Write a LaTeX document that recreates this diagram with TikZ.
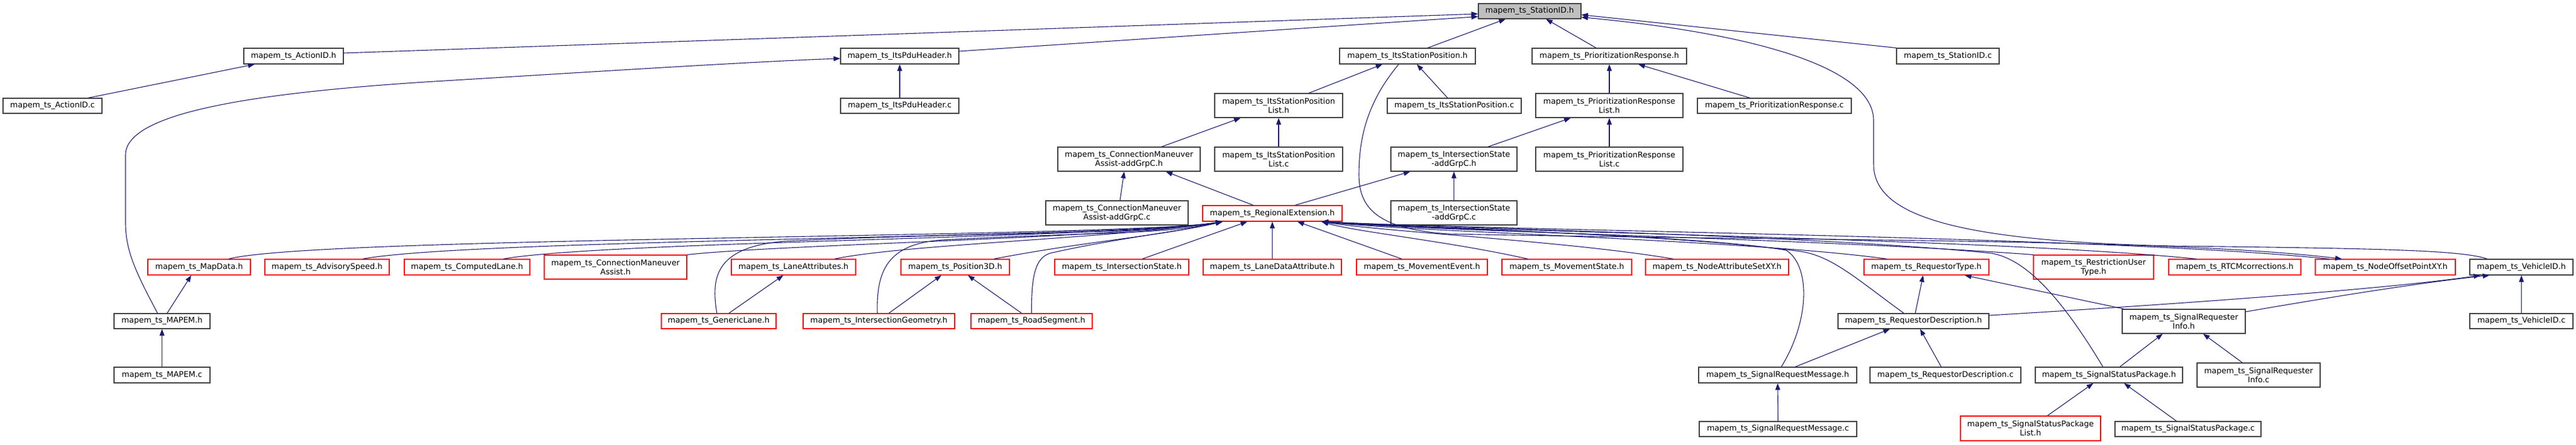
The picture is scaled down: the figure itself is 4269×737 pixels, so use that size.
\documentclass[tikz,border=0pt]{standalone}
\usepackage{fontspec}
\newfontfamily\dvs{DejaVu Sans}
\usetikzlibrary{arrows.meta}
\definecolor{edgec}{HTML}{191970}
\definecolor{nodeb}{HTML}{404040}
\definecolor{nodered}{HTML}{FF0000}
\definecolor{rootfill}{HTML}{BFBFBF}
\begin{document}
\begin{tikzpicture}[x=1pt,y=-1pt,
  box/.style={draw=nodeb, fill=white, line width=1.2pt, inner sep=0pt, align=center,
              font=\dvs\fontsize{13}{15}\selectfont, minimum height=26pt},
  tall/.style={minimum height=40pt},
  trunc/.style={draw=nodered},
  rootbox/.style={fill=rootfill},
  wd/.style={minimum width=#1},
  dep/.style={draw=edgec, line width=1.1pt, -{Triangle[length=11pt,width=8pt]}}]
\fill[white] (0,0) rectangle (4269,737);
\useasboundingbox (0,0) rectangle (4269,737);

% ---- rank 0/1/2 ----
\node[box,rootbox,wd=170pt,minimum height=25pt] (stationh) at (2535,18.5) {mapem\_ts\_StationID.h};
\node[box,wd=165pt] (actionh) at (486.5,93) {mapem\_ts\_ActionID.h};
\node[box,wd=196pt] (pduh) at (1491,93) {mapem\_ts\_ItsPduHeader.h};
\node[box,wd=225pt] (isposh) at (2332.5,93) {mapem\_ts\_ItsStationPosition.h};
\node[box,wd=256pt] (prh) at (2667,93) {mapem\_ts\_PrioritizationResponse.h};
\node[box,wd=170pt] (stationc) at (3228,93) {mapem\_ts\_StationID.c};
\node[box,wd=164pt,minimum height=25pt] (actionc) at (87,175.5) {mapem\_ts\_ActionID.c};
\node[box,wd=196pt,minimum height=25pt] (pduc) at (1491,175.5) {mapem\_ts\_ItsPduHeader.c};
\node[box,tall,wd=212pt] (isposlisth) at (2119,175) {mapem\_ts\_ItsStationPosition\\List.h};
\node[box,wd=222pt,minimum height=25pt] (isposc) at (2410,175.5) {mapem\_ts\_ItsStationPosition.c};
\node[box,tall,wd=244pt] (prlisth) at (2667,175) {mapem\_ts\_PrioritizationResponse\\List.h};
\node[box,wd=255pt,minimum height=25pt] (prc) at (2940.5,175.5) {mapem\_ts\_PrioritizationResponse.c};
\node[box,tall,wd=236pt] (cmagh) at (1871,264) {mapem\_ts\_ConnectionManeuver\\Assist-addGrpC.h};
\node[box,tall,wd=212pt] (isposlistc) at (2119,264) {mapem\_ts\_ItsStationPosition\\List.c};
\node[box,tall,wd=209pt] (isagh) at (2409.5,264) {mapem\_ts\_IntersectionState\\-addGrpC.h};
\node[box,tall,wd=244pt] (prlistc) at (2667,264) {mapem\_ts\_PrioritizationResponse\\List.c};
\node[box,tall,wd=236pt] (cmagc) at (1851,353) {mapem\_ts\_ConnectionManeuver\\Assist-addGrpC.c};
\node[box,trunc,wd=231pt] (regext) at (2108.5,354) {mapem\_ts\_RegionalExtension.h};
\node[box,tall,wd=209pt] (isagc) at (2409.5,353) {mapem\_ts\_IntersectionState\\-addGrpC.c};

% ---- row 4 ----
\node[box,trunc,wd=170pt] (mapdata) at (330,443) {mapem\_ts\_MapData.h};
\node[box,trunc,wd=206pt] (advspeed) at (542,443) {mapem\_ts\_AdvisorySpeed.h};
\node[box,trunc,wd=208pt] (complane) at (774,443) {mapem\_ts\_ComputedLane.h};
\node[box,trunc,tall,wd=236pt] (cmah) at (1020,443) {mapem\_ts\_ConnectionManeuver\\Assist.h};
\node[box,trunc,wd=206pt] (laneattr) at (1315,443) {mapem\_ts\_LaneAttributes.h};
\node[box,trunc,wd=180pt] (pos3d) at (1583,443) {mapem\_ts\_Position3D.h};
\node[box,trunc,wd=222pt] (isstate) at (1859,443) {mapem\_ts\_IntersectionState.h};
\node[box,trunc,wd=229pt] (lanedata) at (2108.5,443) {mapem\_ts\_LaneDataAttribute.h};
\node[box,trunc,wd=217pt] (movevent) at (2356.5,443) {mapem\_ts\_MovementEvent.h};
\node[box,trunc,wd=215pt] (movstate) at (2596.5,443) {mapem\_ts\_MovementState.h};
\node[box,trunc,wd=237pt] (nodeattr) at (2845.5,443) {mapem\_ts\_NodeAttributeSetXY.h};
\node[box,trunc,wd=207pt] (reqtype) at (3192.5,443) {mapem\_ts\_RequestorType.h};
\node[box,trunc,tall,wd=199pt] (restrict) at (3469.5,443) {mapem\_ts\_RestrictionUser\\Type.h};
\node[box,trunc,wd=219pt] (rtcm) at (3703.5,443) {mapem\_ts\_RTCMcorrections.h};
\node[box,trunc,wd=232pt] (nodeoff) at (3953,443) {mapem\_ts\_NodeOffsetPointXY.h};
\node[box,wd=171pt] (vehh) at (4178.5,443) {mapem\_ts\_VehicleID.h};

% ---- row 5 ----
\node[box,wd=159pt,minimum height=25pt] (mapemh) at (268.5,532.5) {mapem\_ts\_MAPEM.h};
\node[box,trunc,wd=190pt,minimum height=25pt] (generic) at (1191,532.5) {mapem\_ts\_GenericLane.h};
\node[box,trunc,wd=251pt,minimum height=25pt] (intgeo) at (1456.5,532.5) {mapem\_ts\_IntersectionGeometry.h};
\node[box,trunc,wd=201pt,minimum height=25pt] (road) at (1709.5,532.5) {mapem\_ts\_RoadSegment.h};
\node[box,wd=250pt,minimum height=25pt] (reqdesch) at (3171,532.5) {mapem\_ts\_RequestorDescription.h};
\node[box,tall,wd=204pt] (sreqinfoh) at (3619,533) {mapem\_ts\_SignalRequester\\Info.h};
\node[box,wd=171pt,minimum height=25pt] (vehc) at (4178.5,532.5) {mapem\_ts\_VehicleID.c};

% ---- row 6 ----
\node[box,wd=159pt] (mapemc) at (268.5,622) {mapem\_ts\_MAPEM.c};
\node[box,wd=262pt] (srmh) at (2946,622) {mapem\_ts\_SignalRequestMessage.h};
\node[box,wd=250pt] (reqdescc) at (3224,622) {mapem\_ts\_RequestorDescription.c};
\node[box,wd=244pt] (ssph) at (3495,622) {mapem\_ts\_SignalStatusPackage.h};
\node[box,tall,wd=204pt] (sreqinfoc) at (3743,622) {mapem\_ts\_SignalRequester\\Info.c};

% ---- row 7 ----
\node[box,wd=261pt,minimum height=25pt] (srmc) at (2946.5,711.5) {mapem\_ts\_SignalRequestMessage.c};
\node[box,trunc,tall,wd=232pt,minimum height=41pt] (ssplisth) at (3365,710.5) {mapem\_ts\_SignalStatusPackage\\List.h};
\node[box,wd=242pt,minimum height=25pt] (sspc) at (3626,711.5) {mapem\_ts\_SignalStatusPackage.c};

% ---- edges to StationID.h ----
\draw[dep] ([yshift=5pt]actionh.east) -- ([yshift=-4.5pt]stationh.west);
\draw[dep] ([yshift=8pt]pduh.east) -- ([yshift=-9pt]stationh.west);
\draw[dep] ([xshift=33.5pt]isposh.north) -- ([xshift=-40pt]stationh.south);
\draw[dep] ([xshift=-22pt]prh.north) -- ([xshift=27pt]stationh.south);
\draw[dep] (stationc.north west) -- ([yshift=-6pt]stationh.east);
\draw[dep] ([xshift=-56.5pt]vehh.north) .. controls (4080,415) and (3950,412) .. (3600,408)
   .. controls (3250,400) and (3105,360) .. (3105,273) -- (3105,200)
   .. controls (3105,110) and (2900,55) .. ([yshift=-10pt]stationh.east);

% ---- upper edges ----
\draw[dep] ([xshift=59pt]actionc.north) -- ([xshift=-64.5pt]actionh.south);
\draw[dep] (pduc.north) -- (pduh.south);
\draw[dep] ([xshift=50pt]isposlisth.north) -- ([xshift=-41.5pt]isposh.south);
\draw[dep] ([xshift=-11pt]isposc.north) -- ([xshift=15.5pt]isposh.south);
\draw[dep] (prlisth.north) -- (prh.south);
\draw[dep] ([xshift=-40.5pt]prc.north) -- ([xshift=48pt]prh.south);
\draw[dep] ([xshift=54pt]cmagh.north) -- ([xshift=-63pt]isposlisth.south);
\draw[dep] (isposlistc.north) -- (isposlisth.south);
\draw[dep] ([xshift=56.5pt]isagh.north) -- ([xshift=-64pt]prlisth.south);
\draw[dep] (prlistc.north) -- (prlisth.south);
\draw[dep] ([xshift=5pt]cmagc.north) -- ([xshift=-8pt]cmagh.south);
\draw[dep] ([xshift=-31.5pt]regext.north) -- ([xshift=61pt]cmagh.south);
\draw[dep] ([xshift=37.5pt]regext.north) -- ([xshift=-72.5pt]isagh.south);
\draw[dep] (isagc.north) -- (isagh.south);
\draw[dep] ([xshift=-14.5pt]isposh.south) .. controls (2265,170) and (2252,230) .. (2252,290)
   .. controls (2252,350) and (2290,380) .. (2400,388)
   .. controls (3000,400) and (3600,395) .. ([xshift=-72pt]nodeoff.north);

% ---- MAPEM ----
\draw[dep] ([xshift=-7.5pt]mapemh.north) .. controls (230,460) and (208,420) .. (208,370) -- (208,257)
   .. controls (208,190) and (400,155) .. (720,135)
   .. controls (1000,118) and (1250,102) .. ([yshift=-4pt]pduh.west);
\draw[dep] (mapemc.north) -- (mapemh.south);
\draw[dep] ([xshift=8.5pt]mapemh.north) -- ([xshift=-13pt]mapdata.south);

% ---- edges into RegionalExtension.h ----
\draw[dep] ([xshift=49pt]mapdata.north) .. controls (520,392) and (1850,395) .. ([xshift=-82.5pt]regext.south);
\draw[dep] ([xshift=59pt]advspeed.north) .. controls (780,396) and (1850,395) .. ([xshift=-82.5pt]regext.south);
\draw[dep] ([xshift=60pt]complane.north) .. controls (1000,400) and (1850,395) .. ([xshift=-82.5pt]regext.south);
\draw[dep] (cmah.north east) .. controls (1300,405) and (1850,395) .. ([xshift=-82.5pt]regext.south);
\draw[dep] ([xshift=68pt]laneattr.north) .. controls (1500,405) and (1850,395) .. ([xshift=-82.5pt]regext.south);
\draw[dep] ([xshift=-3pt]generic.north) .. controls (1178,460) and (1185,410) .. (1300,400)
   .. controls (1600,385) and (1900,390) .. ([xshift=-82.5pt]regext.south);
\draw[dep] ([xshift=-2.5pt]intgeo.north) .. controls (1452,450) and (1470,405) .. (1560,398)
   .. controls (1800,385) and (1920,390) .. ([xshift=-82.5pt]regext.south);
\draw[dep] ([xshift=64pt]pos3d.north) .. controls (1800,400) and (1920,392) .. ([xshift=-82.5pt]regext.south);
\draw[dep] (road.north) .. controls (1709,460) and (1715,428) .. (1740,420)
   .. controls (1850,395) and (1950,385) .. ([xshift=-82.5pt]regext.south);
\draw[dep] ([xshift=34pt]isstate.north) -- ([xshift=-41.5pt]regext.south);
\draw[dep] (lanedata.north) -- (regext.south);
\draw[dep] ([xshift=-33.5pt]movevent.north) -- ([xshift=41.5pt]regext.south);
\draw[dep] ([xshift=-64.5pt]movstate.north) .. controls (2400,400) and (2250,385) .. ([xshift=81.5pt]regext.south);
\draw[dep] ([xshift=-72.5pt]nodeattr.north) .. controls (2600,400) and (2300,385) .. ([xshift=81.5pt]regext.south);
\draw[dep] ([xshift=-65.5pt]reqtype.north) .. controls (2900,398) and (2350,385) .. ([xshift=81.5pt]regext.south);
\draw[dep] (restrict.north west) .. controls (3000,395) and (2400,385) .. ([xshift=81.5pt]regext.south);
\draw[dep] ([xshift=-63.5pt]rtcm.north) .. controls (3300,395) and (2450,385) .. ([xshift=81.5pt]regext.south);
\draw[dep] ([xshift=-93pt]nodeoff.north) .. controls (3500,392) and (2500,383) .. ([xshift=81.5pt]regext.south);
\draw[dep] ([xshift=6pt]srmh.north) .. controls (3000,530) and (3000,440) .. (2960,415)
   .. controls (2800,388) and (2350,380) .. ([xshift=81.5pt]regext.south);
\draw[dep] ([xshift=-16pt]reqdesch.north) .. controls (3080,465) and (3040,428) .. (2990,418)
   .. controls (2800,390) and (2400,380) .. ([xshift=81.5pt]regext.south);
\draw[dep] ([xshift=-10pt]ssph.north) .. controls (3420,500) and (3360,430) .. (3300,420)
   .. controls (3000,390) and (2450,380) .. ([xshift=81.5pt]regext.south);

% ---- lower edges ----
\draw[dep] ([xshift=17pt]generic.north) -- ([xshift=-17pt]laneattr.south);
\draw[dep] ([xshift=16.5pt]intgeo.north) -- ([xshift=-23pt]pos3d.south);
\draw[dep] ([xshift=-16.5pt]road.north) -- ([xshift=21pt]pos3d.south);
\draw[dep] ([xshift=29pt]srmh.north) -- ([xshift=-39pt]reqdesch.south);
\draw[dep] ([xshift=-7pt]reqdescc.north) -- ([xshift=11pt]reqdesch.south);
\draw[dep] ([xshift=3pt]reqdesch.north) -- ([xshift=-5.5pt]reqtype.south);
\draw[dep] ([yshift=9.5pt]reqdesch.east) .. controls (3600,505) and (3950,480) .. ([xshift=-68pt]vehh.south);
\draw[dep] ([xshift=-99pt]sreqinfoh.north) -- ([xshift=63.5pt]reqtype.south);
\draw[dep] ([yshift=16pt]sreqinfoh.east) .. controls (3850,495) and (4000,470) .. ([xshift=-53pt]vehh.south);
\draw[dep] ([xshift=18pt]ssph.north) -- ([xshift=-35pt]sreqinfoh.south);
\draw[dep] ([xshift=-27pt]sreqinfoc.north) -- ([xshift=32pt]sreqinfoh.south);
\draw[dep] (srmc.north) -- (srmh.south);
\draw[dep] ([xshift=28pt]ssplisth.north) -- ([xshift=-26pt]ssph.south);
\draw[dep] ([xshift=-19pt]sspc.north) -- ([xshift=25pt]ssph.south);
\draw[dep] (vehc.north) -- (vehh.south);
\end{tikzpicture}
\end{document}
